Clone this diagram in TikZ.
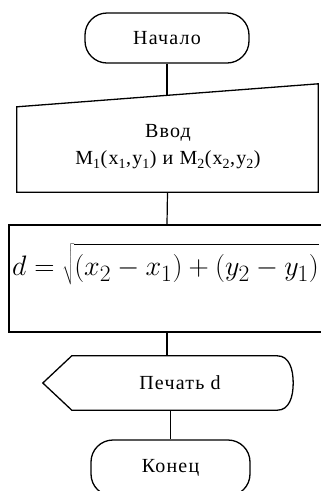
\documentclass[tikz,border=0pt]{standalone}
\usepackage{fontspec}
\setmainfont{Liberation Serif}
\newfontfamily\lbfont[LetterSpace=6]{Liberation Serif}
\usepackage{graphicx}
\usepackage{tikz}
\usetikzlibrary{positioning, calc}
\tikzset{
	term/.style={rectangle, draw, rounded corners=22pt, minimum width=164pt,
		minimum height=50pt, align=center, font=\lbfont\fontsize{20}{27}\selectfont},
	iobox/.style={rectangle, minimum width=301pt, minimum height=108pt,
		inner sep=0pt},
	procbox/.style={rectangle, draw, minimum width=316pt, minimum height=107pt},
	dispbox/.style={rectangle, minimum width=205pt, minimum height=54pt},
	lbl/.style={align=center, font=\lbfont\fontsize{20}{27}\selectfont},
	conn/.style={line width=1.2pt},
	edge/.style={line width=1.3pt},
}

\begin{document}
\begin{tikzpicture}[x=1pt, y=-1pt]
			\clip (0,0) rectangle (321,491);
			\node[term, edge] (start) at (167,38) {Начало};
			\node[iobox] (inp) at (167.5,138) {};
			\node[lbl] (inptxt) at (168,147) {Ввод\\M\textsubscript{1}(x\textsubscript{1},y\textsubscript{1}) и M\textsubscript{2}(x\textsubscript{2},y\textsubscript{2})};
			\node[procbox, edge] (proc) at (167,278.5) {};
			\node[anchor=west, inner sep=0pt, font=\fontsize{24.88}{30}\selectfont] (dfrm) at (12,264)
				{\scalebox{1.13}{$d=\sqrt{\rule{0pt}{1.05em}(x_2-x_1)+(y_2-y_1)}$}};
			\node[dispbox] (outp) at (174.5,383) {};
			\node[lbl] (outtxt) at (180,383) {Печать d};
			\node[term, edge, minimum width=159pt, minimum height=56pt] (stop) at (170.5,468) {Конец};
			
			% manual input
			\draw[edge] (inp.south west) -- ($(inp.north west)+(0,23)$)
				-- (inp.north east) -- (inp.south east) -- cycle;
			% display
			\draw[edge] (outp.south west) -- ($(outp.west)+(-29,0)$) -- (outp.north west)
				-- (outp.north east) .. controls +(12,0) and +(0,-14) .. ($(outp.east)+(16,0)$)
				.. controls +(0,14) and +(12,0) .. (outp.south east) -- cycle;
			
			\coordinate (intop) at (167,96);
			\draw[conn] (start.south) -- (intop);
			\draw[conn] (inp.south) -- (proc.north);
			\draw[conn] (proc.south) -- (proc.south |- outp.north);
			\draw[conn] (stop.north |- outp.south) -- (stop.north);
		\end{tikzpicture}
\end{document}
